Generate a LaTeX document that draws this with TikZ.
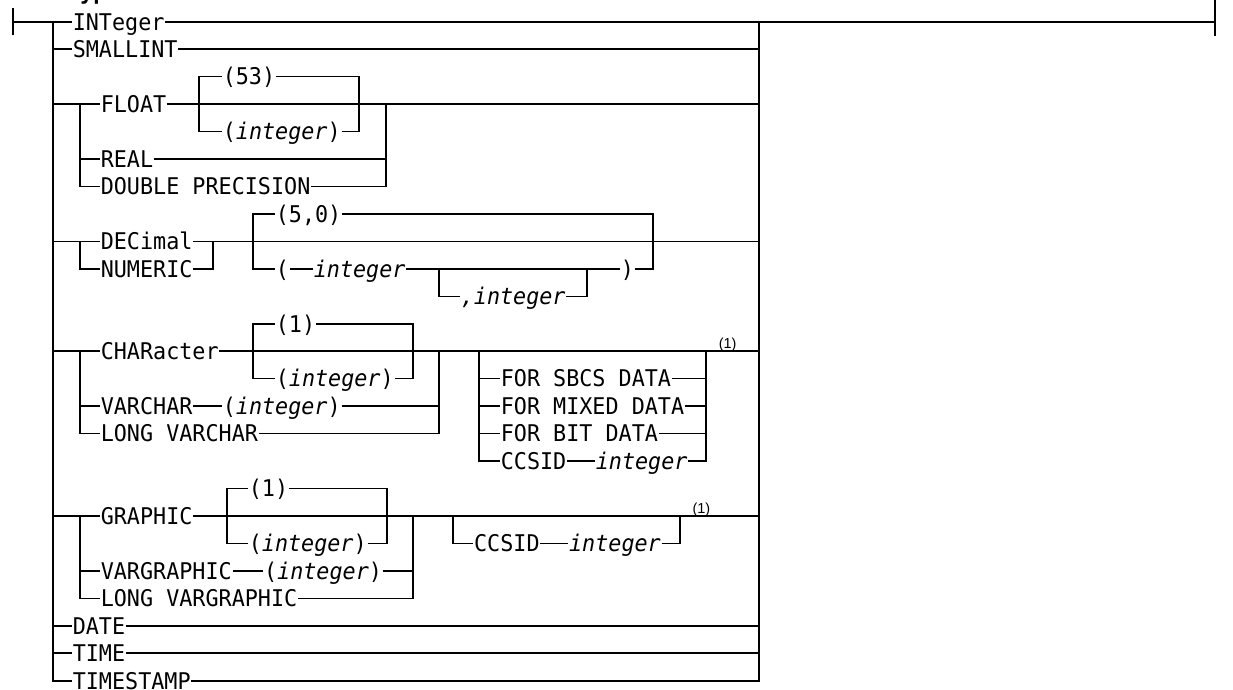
\documentclass[tikz,border=0pt]{standalone}
\usepackage{fontspec}
\newfontfamily\rrmono[FakeStretch=0.946]{DejaVu Sans Mono}
\newfontfamily\rrsup{Liberation Sans}
\begin{document}
\begin{tikzpicture}[x=1pt,y=-27.46pt,line width=1.6pt,
  kw/.style={font={\rrmono\fontsize{23}{23}\selectfont},inner xsep=0pt,inner ysep=0pt,text height=20pt,text depth=3.4pt,anchor=west},
  vr/.style={kw,font={\rrmono\itshape\fontsize{23}{23}\selectfont}},
  note/.style={font={\rrsup\fontsize{14.5}{14.5}\selectfont},inner sep=0pt,anchor=base west,yshift=2.3pt},
  endbar/.style={line width=2.2pt}]
\useasboundingbox (0pt,21.7pt) rectangle (1233pt,-667.3pt);
\clip (0pt,21.7pt) rectangle (1233pt,-667.3pt);
% title (cut off at the top)
\node[font={\rrmono\bfseries\fontsize{23}{23}\selectfont},inner sep=0pt,anchor=base west] (title) at (1pt,22pt) {data-type};
% rails
\coordinate (S) at (13,0);
\coordinate (L) at (53,0);
\coordinate (R) at (759,0);
\coordinate (E) at (1215,0);
\draw[endbar] ([yshift=13.4pt]S) -- ([yshift=-13.4pt]S);
\draw[endbar] ([yshift=21.7pt]E) -- ([yshift=-14.3pt]E);
% simple rows
\node[kw] (integer) at (72,0) {INTeger};
\node[kw] (smallint) at (72,1) {SMALLINT};
\node[kw] (date) at (72,22) {DATE};
\node[kw] (time) at (72,23) {TIME};
\node[kw] (timestamp) at (72,24) {TIMESTAMP};
\draw (S) -- (integer.west);
\draw (integer.east) -- (E);
\draw (L) |- (timestamp.west);
\draw (R) |- (timestamp.east);
\draw (L |- smallint) -- (smallint.west);
\draw (smallint.east) -- (smallint -| R);
\draw (L |- date) -- (date.west);
\draw (date.east) -- (date -| R);
\draw (L |- time) -- (time.west);
\draw (time.east) -- (time -| R);
% FLOAT group
\node[kw] (float) at (100,3) {FLOAT};
\node[kw] (d53) at (222,2) {(53)};
\node[kw] (fint) at (222,4) {(\textit{integer})};
\node[kw] (real) at (100,5) {REAL};
\node[kw] (dp) at (100,6) {DOUBLE PRECISION};
\coordinate (Fi) at (80,3);
\coordinate (Fb1) at (199,3);
\coordinate (Fb2) at (359,3);
\coordinate (Fr) at (386,3);
\draw (L |- float) -- (float.west);
\draw (Fi) |- (dp.west);
\draw (Fi |- real) -- (real.west);
\draw (float.east) -- (float -| R);
\draw (Fb1) |- (d53.west);
\draw (Fb1) |- (fint.west);
\draw (d53.east) -| (Fb2);
\draw (fint.east) -| (Fb2);
\draw (Fr) |- (dp.east);
\draw (real.east) -- (real -| Fr);
% DECIMAL group
\node[kw] (dec) at (100,8) {DECimal};
\node[kw] (num) at (100,9) {NUMERIC};
\node[kw] (d50) at (275,7) {(5,0)};
\node[kw] (lp) at (275,9) {(};
\node[vr] (dint) at (313,9) {integer};
\node[kw] (rp) at (620,9) {)};
\node[vr] (cint) at (460,10) {,integer};
\coordinate (Di) at (80,8);
\coordinate (Dr) at (213,8);
\coordinate (Db1) at (253,8);
\coordinate (Db2) at (652.7,8);
\coordinate (Cb1) at (439,9);
\coordinate (Cb2) at (586.7,9);
\draw (L |- dec) -- (dec.west);
\draw (Di) |- (num.west);
\draw (dec.east) -- (dec -| R);
\draw (num.east) -| (Dr);
\draw (Db1) |- (d50.west);
\draw (d50.east) -| (Db2);
\draw (Db1) |- (lp.west);
\draw (lp.east) -- (dint.west);
\draw (dint.east) -- (rp.west);
\draw (rp.east) -| (Db2);
\draw (Cb1) |- (cint.west);
\draw (cint.east) -| (Cb2);
% CHARACTER group
\node[kw] (char) at (100,12) {CHARacter};
\node[kw] (c1) at (275,11) {(1)};
\node[kw] (cint2) at (275,13) {(\textit{integer})};
\node[kw] (varchar) at (100,14) {VARCHAR};
\node[kw] (vint) at (222,14) {(\textit{integer})};
\node[kw] (lvc) at (100,15) {LONG VARCHAR};
\node[kw] (sbcs) at (500,13) {FOR SBCS DATA};
\node[kw] (mixed) at (500,14) {FOR MIXED DATA};
\node[kw] (bit) at (500,15) {FOR BIT DATA};
\node[kw] (ccsid) at (500,16) {CCSID};
\node[vr] (ccint) at (595,16) {integer};
\coordinate (Ci) at (80,12);
\coordinate (Cx1) at (253,12);
\coordinate (Cx2) at (412.7,12);
\coordinate (Cr) at (439,12);
\coordinate (Fo1) at (479,12);
\coordinate (Fo2) at (706,12);
\draw (L |- char) -- (char.west);
\draw (Ci) |- (lvc.west);
\draw (Ci |- varchar) -- (varchar.west);
\draw (char.east) -- (char -| R);
\draw (Cx1) |- (c1.west);
\draw (c1.east) -| (Cx2);
\draw (Cx1) |- (cint2.west);
\draw (cint2.east) -| (Cx2);
\draw (varchar.east) -- (vint.west);
\draw (Cr) |- (lvc.east);
\draw (vint.east) -- (vint -| Cr);
\draw (Fo1) |- (ccsid.west);
\draw (Fo1 |- sbcs) -- (sbcs.west);
\draw (Fo1 |- mixed) -- (mixed.west);
\draw (Fo1 |- bit) -- (bit.west);
\draw (ccsid.east) -- (ccint.west);
\draw (Fo2) |- (ccint.east);
\draw (sbcs.east) -- (sbcs -| Fo2);
\draw (mixed.east) -- (mixed -| Fo2);
\draw (bit.east) -- (bit -| Fo2);
\node[note] (n1) at (718,12) {(1)};
% GRAPHIC group
\node[kw] (graphic) at (100,18) {GRAPHIC};
\node[kw] (g1) at (248,17) {(1)};
\node[kw] (gint) at (248,19) {(\textit{integer})};
\node[kw] (vg) at (100,20) {VARGRAPHIC};
\node[kw] (vgint) at (263.3,20) {(\textit{integer})};
\node[kw] (lvg) at (100,21) {LONG VARGRAPHIC};
\node[kw] (gcc) at (473.3,19) {CCSID};
\node[vr] (gccint) at (568.3,19) {integer};
\coordinate (Gi) at (80,18);
\coordinate (Gb1) at (226.7,18);
\coordinate (Gb2) at (386.7,18);
\coordinate (Gr) at (412.7,18);
\coordinate (Gc1) at (452.7,18);
\coordinate (Gc2) at (680,18);
\draw (L |- graphic) -- (graphic.west);
\draw (Gi) |- (lvg.west);
\draw (Gi |- vg) -- (vg.west);
\draw (graphic.east) -- (graphic -| R);
\draw (Gb1) |- (g1.west);
\draw (g1.east) -| (Gb2);
\draw (Gb1) |- (gint.west);
\draw (gint.east) -| (Gb2);
\draw (vg.east) -- (vgint.west);
\draw (Gr) |- (lvg.east);
\draw (vgint.east) -- (vgint -| Gr);
\draw (Gc1) |- (gcc.west);
\draw (gcc.east) -- (gccint.west);
\draw (gccint.east) -| (Gc2);
\node[note] (n2) at (691.7,18) {(1)};
\end{tikzpicture}
\end{document}
